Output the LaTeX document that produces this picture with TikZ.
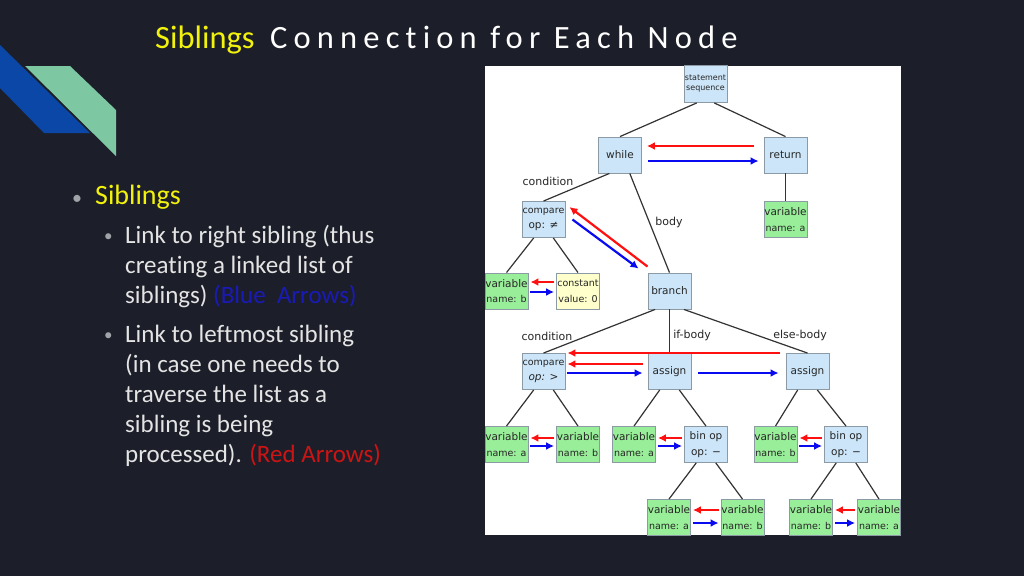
\documentclass[tikz,border=0pt]{standalone}
\usepackage{fontspec}
\setmainfont{Carlito}[Ligatures=NoCommon]
\newfontfamily\treefont{DejaVu Sans}
\usetikzlibrary{arrows.meta}
\definecolor{slidebg}{HTML}{1C1F2A}
\definecolor{stripeblue}{HTML}{0B47A6}
\definecolor{stripegreen}{HTML}{7DC7A3}
\definecolor{titleyellow}{HTML}{F2F20C}
\definecolor{bodygray}{HTML}{E4E4E4}
\definecolor{dotgray}{HTML}{A0A3A8}
\definecolor{txtblue}{HTML}{1A1AB8}
\definecolor{txtred}{HTML}{CC1414}
\definecolor{boxblue}{HTML}{CCE5F8}
\definecolor{boxgreen}{HTML}{99EE99}
\definecolor{boxyellow}{HTML}{FFFFCC}
\definecolor{boxline}{HTML}{8C9AA6}
\definecolor{arrred}{HTML}{FF1010}
\definecolor{arrblue}{HTML}{0A0AF0}
\newcommand\subline[1]{{\fontsize{9.5}{15.5}\selectfont #1}}
\tikzset{titletext/.style={anchor=base west, inner sep=0pt, font=\fontsize{32.5}{39}\selectfont}}
\tikzset{bodytext/.style={anchor=base west, inner sep=0pt, text=bodygray, font=\fontsize{25}{30}\selectfont}}
\tikzset{dot/.style={anchor=base west, inner sep=0pt, text=dotgray, font=\fontsize{20}{24}\selectfont}}
\tikzset{bluebox/.style={draw=boxline, fill=boxblue, line width=0.9pt, minimum width=43pt, minimum height=36pt, inner sep=0pt, align=center, text=black!85, font={\treefont\fontsize{10.5}{15.5}\selectfont}}}
\tikzset{greenbox/.style={bluebox, fill=boxgreen}}
\tikzset{yellowbox/.style={bluebox, fill=boxyellow}}
\tikzset{elabel/.style={inner sep=0pt, text=black!85, font={\treefont\fontsize{11}{13}\selectfont}}}
\tikzset{treeline/.style={draw=black!80, line width=1.2pt}}
\tikzset{redarr/.style={->, draw=arrred, line width=2.2pt, shorten >=2pt, shorten <=2pt}}
\tikzset{bluearr/.style={->, draw=arrblue, line width=2.2pt, shorten >=2pt, shorten <=2pt}}

\begin{document}
\begin{tikzpicture}[x=1pt, y=-1pt, >={Latex[length=8pt,width=8pt]}]
\fill[slidebg] (0,0) rectangle (1024,576);

% corner stripes
\fill[stripeblue] (0,45) -- (90,133) -- (44,133) -- (0,88) -- cycle;
\fill[stripegreen] (25,66) -- (70,66) -- (116,110) -- (116,156) -- cycle;

% title
\node[titletext, text=titleyellow] (ttl1) at (155,48) {Siblings};
\node[titletext, text=white] (ttl2) at (270,48) {\addfontfeature{LetterSpace=19}Connection for Each Node};

% bullet text
\node[dot] (d0) at (72,204) {•};
\node[bodytext, text=titleyellow, font=\fontsize{28}{32}\selectfont] (t0) at (95,204) {Siblings};
\node[dot, font=\fontsize{17}{20}\selectfont] (d1) at (104,241) {•};
\node[dot, font=\fontsize{17}{20}\selectfont] (d2) at (104,340) {•};
\node[bodytext] (t1) at (125,243) {Link to right sibling (thus};
\node[bodytext] (t2) at (125,273) {creating a linked list of};
\node[bodytext] (t3) at (125,303) {siblings) \textcolor{txtblue}{(Blue\ \ Arrows)}};
\node[bodytext] (t4) at (125,342) {Link to leftmost sibling};
\node[bodytext] (t5) at (125,372) {(in case one needs to};
\node[bodytext] (t6) at (125,402) {traverse the list as a};
\node[bodytext] (t7) at (125,432) {sibling is being};
\node[bodytext] (t8) at (125,462) {processed). \textcolor{txtred}{(Red Arrows)}};

% tree panel
\fill[white] (485,66) rectangle (901,535);

\node[bluebox, minimum height=37pt, font={\treefont\fontsize{8}{10}\selectfont}] (stmt) at (705.5,84) {statement\\sequence};
\node[bluebox] (while) at (620,155) {while};
\node[bluebox] (ret) at (785.5,155) {return};
\node[bluebox] (cmp1) at (543.5,219.5) {\subline{compare}\\op: ≠};
\node[greenbox] (va1) at (785.5,219.5) {variable\\\subline{name: a}};
\node[bluebox] (branch) at (669.5,291) {branch};
\node[greenbox] (vb1) at (506.5,291) {variable\\\subline{name: b}};
\node[yellowbox] (const) at (578,291) {\subline{constant}\\\subline{value: 0}};
\node[bluebox] (cmp2) at (543.5,371.5) {\subline{compare}\\\textit{op: >}};
\node[bluebox] (asg1) at (669.5,371.5) {assign};
\node[bluebox] (asg2) at (807.5,371.5) {assign};
\node[greenbox] (va2) at (506.5,444.5) {variable\\\subline{name: a}};
\node[greenbox] (vb2) at (578,444.5) {variable\\\subline{name: b}};
\node[greenbox] (va3) at (634,444.5) {variable\\\subline{name: a}};
\node[bluebox] (bin1) at (706,444.5) {bin op\\op: −};
\node[greenbox] (vb3) at (775.5,444.5) {variable\\\subline{name: b}};
\node[bluebox] (bin2) at (846,444.5) {bin op\\op: −};
\node[greenbox] (va4) at (669,517.5) {variable\\\subline{name: a}};
\node[greenbox] (vb4) at (742.5,517.5) {variable\\\subline{name: b}};
\node[greenbox] (vb5) at (811,517.5) {variable\\\subline{name: b}};
\node[greenbox] (va5) at (879,517.5) {variable\\\subline{name: a}};

\node[elabel] (lcond1) at (548,181) {condition};
\node[elabel] (lbody) at (669,222) {body};
\node[elabel] (lcond2) at (547,336) {condition};
\node[elabel] (lif) at (692,335) {if-body};
\node[elabel] (lelse) at (800,335) {else-body};

% parent to child lines
\foreach \p/\c/\a in {stmt/while/-115, stmt/ret/-65, while/cmp1/-120, while/branch/-62,
  ret/va1/south, cmp1/vb1/-118, cmp1/const/-62, branch/cmp2/-128, branch/asg1/south,
  branch/asg2/-52, cmp2/va2/-118, cmp2/vb2/-62, asg1/va3/-118, asg1/bin1/-62,
  asg2/vb3/-118, asg2/bin2/-62, bin1/va4/-118, bin1/vb4/-62, bin2/vb5/-118, bin2/va5/-62}
  \draw[treeline] (\p.\a) -- (\c.north);

% sibling links
\draw[redarr, shorten <=10pt, shorten >=5pt] ([yshift=9pt]ret.west) -- ([yshift=9pt]while.east);
\draw[bluearr, shorten <=6pt, shorten >=5pt] ([yshift=-6pt]while.east) -- ([yshift=-6pt]ret.west);

\draw[redarr, shorten <=0pt, shorten >=0pt] ([yshift=6pt]branch.north west) -- ([xshift=4pt,yshift=-6pt]cmp1.north east);
\draw[bluearr, shorten <=0pt, shorten >=0pt] ([xshift=7pt]cmp1.east) -- ([xshift=-9pt,yshift=4pt]branch.north west);

\draw[redarr] ([yshift=9pt]const.west) -- ([yshift=9pt]vb1.east);
\draw[bluearr] ([yshift=-1pt]vb1.east) -- ([yshift=-1pt]const.west);

\draw[redarr, shorten <=6pt] ([yshift=18.5pt]asg2.west) -- ([yshift=18.5pt]cmp2.east);
\draw[redarr, shorten <=5pt] ([yshift=7.5pt]asg1.west) -- ([yshift=7.5pt]cmp2.east);
\draw[bluearr, shorten >=5pt] ([yshift=-1.5pt]cmp2.east) -- ([yshift=-1.5pt]asg1.west);
\draw[bluearr, shorten <=7pt, shorten >=7pt] ([yshift=-1.5pt]asg1.east) -- ([yshift=-1.5pt]asg2.west);

\draw[redarr] ([yshift=6.5pt]vb2.west) -- ([yshift=6.5pt]va2.east);
\draw[bluearr] ([yshift=-1.5pt]va2.east) -- ([yshift=-1.5pt]vb2.west);
\draw[redarr] ([yshift=6.5pt]bin1.west) -- ([yshift=6.5pt]va3.east);
\draw[bluearr] ([yshift=-1.5pt]va3.east) -- ([yshift=-1.5pt]bin1.west);
\draw[redarr] ([yshift=6.5pt]bin2.west) -- ([yshift=6.5pt]vb3.east);
\draw[bluearr] ([yshift=-1.5pt]vb3.east) -- ([yshift=-1.5pt]bin2.west);

\draw[redarr] ([yshift=7.5pt]vb4.west) -- ([yshift=7.5pt]va4.east);
\draw[bluearr] ([yshift=-5.5pt]va4.east) -- ([yshift=-5.5pt]vb4.west);
\draw[redarr] ([yshift=7.5pt]va5.west) -- ([yshift=7.5pt]vb5.east);
\draw[bluearr] ([yshift=-5.5pt]vb5.east) -- ([yshift=-5.5pt]va5.west);
\end{tikzpicture}
\end{document}
